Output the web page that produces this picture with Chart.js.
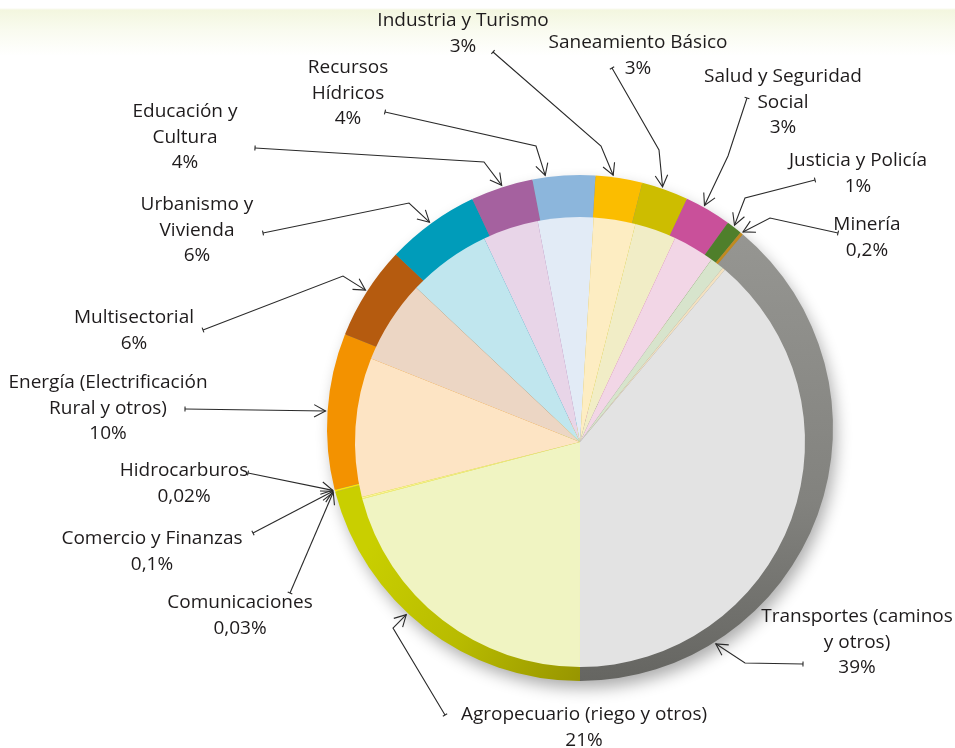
<!DOCTYPE html>
<html><head><meta charset="utf-8">
<script src="https://cdn.jsdelivr.net/npm/chart.js@4.4.0/dist/chart.umd.min.js"></script>
<style>
html,body{margin:0;padding:0;width:955px;height:748px;overflow:hidden;background:#fff;}
#bg{position:absolute;left:0;top:0;width:955px;height:748px;background:linear-gradient(to bottom,#fff 0px,#fff 8px,#f3f6df 10px,#f9fbef 30px,#fff 56px);}
.w{position:absolute;left:0;top:0;width:955px;height:748px;}
</style></head><body>
<div id="bg"></div>
<div class="w"><canvas id="cA"></canvas></div>
<div class="w"><canvas id="cB"></canvas></div>
<script>
// ---- data (clockwise from top) ----
const categories = [
  "Industria y Turismo", "Saneamiento Básico", "Salud y Seguridad\nSocial",
  "Justicia y Policía", "Minería", "Transportes (caminos\ny otros)",
  "Agropecuario (riego y otros)", "Comunicaciones", "Comercio y Finanzas",
  "Hidrocarburos", "Energía (Electrificación\nRural y otros)", "Multisectorial",
  "Urbanismo y\nVivienda", "Educación y\nCultura", "Recursos\nHídricos"
];
const values = [3, 3, 3, 1, 0.2, 39, 21, 0.03, 0.1, 0.02, 10, 6, 6, 4, 4];
const ringColors = ["#fbbd00","#cdbd00","#c9509a","#4f7f2b","#c08a20","#8b8b87",
  "#c4cc00","#e4dc00","#ffe900","#fff000","#f39200","#b55b0f","#009cba","#a5619f","#8cb6dc"];
const fillColors = ["#fdedc2","#f1edc6","#f2d6e6","#d7e4cc","#f3e1c0","#e3e3e3",
  "#f0f4c2","#fbf4a8","#fdf6a0","#fef8b0","#fde4c4","#ecd6c4","#c0e6ee","#e8d5e8","#e2ebf6"];

// ---- label layout (annotation positions) ----
const labelLayout = [
  {x:463, y:21,  start:[493,52],  elbow:[601,146], frac:0.37},
  {x:638, y:43,  start:[612,68],  elbow:[659,150], frac:0.43},
  {x:783, y:77,  start:[747,98],  elbow:[728,156], frac:0.39},
  {x:858, y:161, start:[815,180], elbow:[745,198], frac:0.42},
  {x:867, y:225, start:[838,233], elbow:[770,218], frac:0.5},
  {x:857, y:617, start:[803,664], elbow:[745,663], frac:0.77},
  {x:584, y:715, start:[445,715], elbow:[393,628], frac:0.57},
  {x:240, y:603, start:[290,593], elbow:null, frac:0.5},
  {x:152, y:539, start:[253,533], elbow:null, frac:0.5},
  {x:184, y:471, start:[248,473], elbow:null, frac:0.5},
  {x:108, y:383, start:[185,409], elbow:null, frac:0.5},
  {x:134, y:318, start:[203,330], elbow:[343,276], frac:0.51},
  {x:197, y:205, start:[263,233], elbow:[409,203], frac:0.49},
  {x:185, y:112, start:[255,148], elbow:[484,162], frac:0.51},
  {x:348, y:68,  start:[385,112], elbow:[536,146], frac:0.21}
];
const ROT = 3.5;
const FONT = '19px "Open Sans", "Noto Sans", sans-serif';
const LINE_H = 25.5;

function pct(v){ return String(v).replace('.', ',') + '%'; }

const ringColorFn = (c) => {
  const chart = c.chart, i = c.dataIndex, area = chart.chartArea;
  if (!area) return ringColors[i];
  const g = chart.ctx;
  if (i === 5) {
    const gr = g.createLinearGradient(0, 230, 0, 682);
    gr.addColorStop(0, '#969692'); gr.addColorStop(0.6, '#82827e'); gr.addColorStop(1, '#656561');
    return gr;
  }
  if (i === 6) {
    const gr = g.createLinearGradient(360, 560, 580, 682);
    gr.addColorStop(0, '#c9cf00'); gr.addColorStop(0.5, '#b8bb00'); gr.addColorStop(1, '#979500');
    return gr;
  }
  return ringColors[i];
};

const shadowPlugin = {
  id: 'shadow',
  beforeDatasetsDraw(chart) {
    const a = chart.getDatasetMeta(0).data[0];
    if (!a) return;
    const ctx = chart.ctx;
    ctx.save();
    ctx.shadowColor = 'rgba(0,0,0,0.33)';
    ctx.shadowBlur = 16; ctx.shadowOffsetX = 4; ctx.shadowOffsetY = 8;
    ctx.fillStyle = '#888';
    ctx.beginPath(); ctx.arc(a.x, a.y, a.outerRadius - 1, 0, Math.PI * 2); ctx.fill();
    ctx.restore();
  }
};

const baseOpts = (pad) => ({
  responsive: true, maintainAspectRatio: false, animation: false, events: [],
  rotation: ROT, layout: { padding: pad },
  plugins: { legend: { display: false }, tooltip: { enabled: false } }
});

const chartA = new Chart(document.getElementById('cA'), {
  type: 'pie',
  data: { labels: categories, datasets: [{ data: values, backgroundColor: ringColorFn,
    borderWidth: 0, hoverOffset: 0 }] },
  options: baseOpts({ left: 327, right: 122, top: 175, bottom: 67 }),
  plugins: [shadowPlugin]
});

function drawArrow(ctx, from, tip) {
  const ang = Math.atan2(tip[1] - from[1], tip[0] - from[0]);
  const L = 13, s = 0.5;
  ctx.beginPath();
  ctx.moveTo(tip[0] - L * Math.cos(ang - s), tip[1] - L * Math.sin(ang - s));
  ctx.lineTo(tip[0], tip[1]);
  ctx.lineTo(tip[0] - L * Math.cos(ang + s), tip[1] - L * Math.sin(ang + s));
  ctx.stroke();
}

const labelPlugin = {
  id: 'labels',
  afterDraw(chart) {
    const ctx = chart.ctx;
    const arcs = chartA.getDatasetMeta(0).data;
    ctx.save();
    ctx.font = FONT; ctx.fillStyle = '#1e1b1c'; ctx.textAlign = 'center'; ctx.textBaseline = 'middle';
    ctx.strokeStyle = '#2a2a2a'; ctx.lineWidth = 1.1; ctx.lineJoin = 'miter';
    categories.forEach((name, i) => {
      const L = labelLayout[i];
      const lines = name.split('\n').concat([pct(values[i])]);
      lines.forEach((t, k) => ctx.fillText(t, L.x, L.y + k * LINE_H));
      const a = arcs[i];
      const ang = a.startAngle + L.frac * (a.endAngle - a.startAngle);
      const R = a.outerRadius + 2;
      const tip = [a.x + R * Math.cos(ang), a.y + R * Math.sin(ang)];
      const pts = [L.start]; if (L.elbow) pts.push(L.elbow); pts.push(tip);
      ctx.beginPath(); ctx.moveTo(pts[0][0], pts[0][1]);
      for (let k = 1; k < pts.length; k++) ctx.lineTo(pts[k][0], pts[k][1]);
      ctx.stroke();
      // small tick at the start
      const d0 = Math.atan2(pts[1][1] - pts[0][1], pts[1][0] - pts[0][0]) + Math.PI / 2;
      ctx.beginPath();
      ctx.moveTo(L.start[0] - 2.5 * Math.cos(d0), L.start[1] - 2.5 * Math.sin(d0));
      ctx.lineTo(L.start[0] + 2.5 * Math.cos(d0), L.start[1] + 2.5 * Math.sin(d0));
      ctx.stroke();
      drawArrow(ctx, pts[pts.length - 2], tip);
    });
    ctx.restore();
  }
};

const chartB = new Chart(document.getElementById('cB'), {
  type: 'pie',
  data: { labels: categories, datasets: [{ data: values, backgroundColor: fillColors,
    borderWidth: 0, hoverOffset: 0 }] },
  options: baseOpts({ left: 355, right: 150, top: 217, bottom: 81 }),
  plugins: [labelPlugin]
});
</script>
</body></html>
